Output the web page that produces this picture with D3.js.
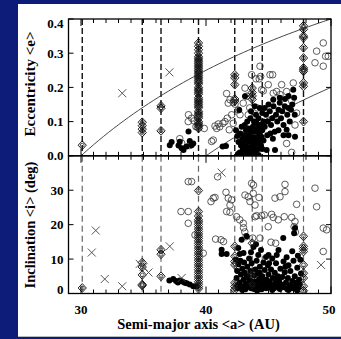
<!DOCTYPE html>
<html><head><meta charset="utf-8">
<script src="https://cdn.jsdelivr.net/npm/d3@7"></script>
<style>html,body{margin:0;padding:0;background:#0c1c78;}svg{display:block}</style>
</head><body>
<svg id="c" width="341" height="339"></svg>
<script>
// ---------------- data ----------------
const resonances = [30.1, 34.9, 36.4, 39.4, 42.3, 43.7, 44.5, 47.8];
const perihelia = [30, 40];
const xTicks = [30, 40, 50];
const eTicks = [0, 0.1, 0.2, 0.3, 0.4];
const eTickLabels = ["0.0", "0.1", "0.2", "0.3", "0.4"];
const iTicks = [0, 10, 20, 30];
const iTickLabels = ["0", "10", "20", "30"];
const xLabel = "Semi-major axis <a> (AU)";
const eLabel = "Eccentricity <e>";
const iLabel = "Inclination <i> (deg)";

// resonant objects (diamonds): [a, e]
const resonantE = [
  [30.1,0.031],
  [34.9,0.068],[34.9,0.078],[34.9,0.088],[34.9,0.098],
  [36.4,0.146],[36.4,0.139],[36.4,0.073],
  [39.4,0.33],[39.4,0.32],[39.4,0.31],[39.4,0.30],[39.4,0.29],[39.4,0.285],[39.4,0.28],[39.4,0.275],
  [39.4,0.27],[39.4,0.265],[39.4,0.26],[39.4,0.255],[39.4,0.25],[39.4,0.245],[39.4,0.24],[39.4,0.235],
  [39.4,0.23],[39.4,0.225],[39.4,0.22],[39.4,0.215],[39.4,0.21],[39.4,0.20],[39.4,0.195],[39.4,0.19],
  [39.4,0.185],[39.4,0.18],[39.4,0.17],[39.4,0.165],[39.4,0.16],[39.4,0.155],[39.4,0.15],[39.4,0.145],
  [39.4,0.14],[39.4,0.13],[39.4,0.125],[39.4,0.12],[39.4,0.115],[39.4,0.11],[39.4,0.10],[39.4,0.095],
  [39.4,0.09],[39.4,0.085],[39.4,0.08],
  [42.3,0.237],[42.3,0.228],[42.3,0.208],[42.3,0.166],[42.3,0.160],
  [43.7,0.198],[43.7,0.185],[43.7,0.175],[43.7,0.165],
  [47.8,0.38],[47.8,0.37],[47.8,0.35],[47.8,0.345],[47.8,0.316],[47.8,0.286],[47.8,0.257],
  [47.8,0.252],[47.8,0.247],[47.8,0.213],[47.8,0.203],[47.8,0.10]
];
// resonant objects (diamonds): [a, i]
const resonantI = [
  [30.1,1.6],
  [34.9,9.0],[34.9,7.7],[34.9,5.4],[34.9,2.6],[34.9,2.3],
  [36.4,12.7],[36.4,11.4],[36.4,5.0],
  [39.4,29.9],[39.4,23.8],[39.4,22.5],[39.4,21.4],[39.4,20.8],[39.4,20.1],[39.4,19.4],[39.4,18.7],
  [39.4,18.0],[39.4,17.3],[39.4,16.6],[39.4,16.0],[39.4,15.3],[39.4,14.6],[39.4,13.9],[39.4,13.2],
  [39.4,12.5],[39.4,11.8],[39.4,11.1],[39.4,10.4],[39.4,9.7],[39.4,9.0],[39.4,8.3],[39.4,7.6],
  [39.4,6.9],[39.4,6.2],[39.4,5.5],[39.4,4.8],[39.4,4.1],[39.4,3.4],[39.4,2.7],[39.4,2.0],[39.4,1.4],
  [42.3,13.7],[42.3,10.8],[42.3,9.3],[42.3,8.3],[42.3,3.1],[42.3,2.0],[42.3,1.1],
  [43.7,14.6],[43.7,5.9],[43.7,5.0],[43.7,2.6],
  [47.8,16.6],[47.8,13.7],[47.8,13.0],[47.8,12.2],[47.8,8.3],[47.8,5.9],[47.8,4.5],[47.8,2.1],[47.8,0.8]
];
// scattered objects (crosses)
const scatteredE = [[33.3,0.183],[37.07,0.244]];
const scatteredI = [
  [31.18,18.3],[30.86,11.9],[31.9,4.2],[33.3,2.1],[34.7,8.6],[35.0,7.7],[35.4,6.1],
  [37.1,13.7],[38.05,4.5],[41.25,35.1],[49.2,8.3]
];
// hot classical objects (open circles): [a, e]
const hotE = [
  [38.6,0.12],[38.85,0.11],[39.05,0.102],[38.58,0.10],[37.9,0.05],[38.05,0.037],[38.7,0.03],[39.2,0.085],
  [39.86,0.08],[40.45,0.042],[40.58,0.046],[40.72,0.087],[40.98,0.093],[40.85,0.08],[41.1,0.085],
  [41.35,0.095],[41.52,0.1],[41.7,0.11],[41.86,0.076],[42.05,0.12],[42.18,0.095],
  [41.65,0.182],[41.78,0.154],[41.92,0.164],[42.18,0.156],[42.32,0.151],
  [42.58,0.134],[42.72,0.12],[42.98,0.154],[43.12,0.198],[43.25,0.174],[43.38,0.12],[43.5,0.14],
  [43.65,0.237],[44.0,0.225],[44.26,0.225],[44.32,0.262],[44.37,0.232],[44.45,0.193],[44.58,0.19],
  [44.98,0.208],[45.12,0.237],[45.33,0.237],[45.38,0.183],[45.65,0.188],[45.92,0.179],
  [46.05,0.208],[46.45,0.188],[46.98,0.213],[46.85,0.161],[47.25,0.125],[47.12,0.09],
  [46.45,0.036],[46.85,0.01],[44.1,0.14],[43.9,0.11],
  [48.72,0.272],[48.85,0.306],[49.38,0.33],[49.38,0.262],[49.57,0.291],[49.78,0.291]
];
// cold classical objects (filled circles): [a, e]
const coldE = [
  [37.25,0.04],[37.1,0.031],[37.8,0.03],[38.05,0.022],[38.2,0.017],[38.6,0.071],[38.7,0.043],
  [38.85,0.031],[38.45,0.027],[38.98,0.036],[37.9,0.041],
  [41.33,0.027],[41.6,0.029],[42.5,0.058],[42.66,0.134],[42.4,0.075],
  [42.7,0.01],[42.8,0.03],[42.9,0.05],[42.75,0.065],[42.95,0.02],[43.0,0.04],[43.05,0.06],[43.1,0.008],
  [43.15,0.03],[43.2,0.05],[43.2,0.075],[43.3,0.015],[43.35,0.04],[43.4,0.06],[43.45,0.005],[43.5,0.025],
  [43.55,0.045],[43.6,0.07],[43.65,0.015],[43.7,0.035],[43.75,0.055],[43.8,0.005],[43.85,0.025],
  [43.9,0.045],[43.95,0.07],[44.0,0.015],[44.05,0.035],[44.1,0.055],[44.15,0.08],[44.2,0.02],
  [44.25,0.045],[44.3,0.065],[44.35,0.09],[44.4,0.03],[44.45,0.055],[44.5,0.075],[42.85,0.085],
  [43.1,0.09],[43.3,0.1],[43.55,0.11],[43.85,0.1],[43.6,0.13],[44.0,0.12],[44.2,0.11],[44.3,0.14],
  [43.9,0.145],[43.12,0.174],[44.6,0.1],[44.7,0.085],[44.8,0.12],[44.9,0.06],[44.95,0.1],[45.1,0.13],
  [45.2,0.09],[45.3,0.11],[45.4,0.145],[45.5,0.07],[45.6,0.12],[45.7,0.1],[45.8,0.135],[45.9,0.155],
  [46.0,0.11],[46.1,0.13],[46.2,0.09],[46.3,0.145],[46.32,0.166],[46.45,0.076],[46.5,0.12],[46.6,0.14],
  [46.7,0.1],[46.8,0.135],[46.9,0.15],[46.98,0.193],[47.1,0.12],[47.12,0.056],[44.85,0.017],
  [45.52,0.017],[45.38,0.164],[45.9,0.17],[46.6,0.175],[47.05,0.17],[44.5,0.02],[44.6,0.045],
  [44.2,0.002],[42.6,0.04],[42.55,0.005],[43.0,0.003],[43.4,0.08],[43.75,0.085],[44.05,0.095],
  [44.5,0.125],[44.7,0.14],[45.0,0.15],[45.15,0.065],[45.35,0.05],[45.8,0.075],[46.2,0.06],[46.6,0.06]
];
// hot classical objects (open circles): [a, i]
const hotI = [
  [38.58,32.5],[38.85,32.5],[38.0,23.8],[38.58,23.8],[38.58,20.4],[39.12,17.0],[39.78,11.7],
  [40.4,26.7],[40.58,27.7],[40.72,27.9],[40.93,33.9],[41.6,29.4],[41.78,27.7],[42.05,27.2],[41.92,25.7],
  [41.65,23.8],[41.92,23.6],[42.45,22.3],[42.7,21.4],[42.98,20.4],[43.0,19.1],[43.1,17.9],[43.2,16.5],
  [40.77,15.8],[41.2,15.6],[41.4,15.1],[43.12,28.6],[43.38,28.1],[43.52,26.7],[43.78,29.1],[43.8,31.5],
  [43.65,32.0],[44.24,27.9],[43.92,25.7],[44.05,22.6],[44.45,22.6],[44.66,22.8],[43.92,22.3],
  [45.25,23.0],[45.38,22.1],[45.78,21.4],[46.26,22.3],[46.85,22.1],[47.12,20.9],[47.05,19.4],[47.15,17.8],
  [44.98,19.4],[44.32,16.1],[43.74,16.1],[45.2,14.9],[45.57,14.6],
  [46.32,31.7],[45.92,28.1],[45.52,27.7],[46.32,29.6],[47.25,25.9],
  [48.72,30.6],[48.85,25.2],[49.38,19.0],[49.65,18.5],[49.38,12.2]
];
// cold classical objects (filled circles): [a, i]
const coldI = [
  [37.07,3.8],[37.38,4.2],[37.6,3.6],[37.9,3.8],[38.1,3.5],[38.3,3.1],[38.45,3.0],[38.7,2.6],
  [38.98,2.1],[39.25,2.1],[37.75,3.2],
  [41.25,12.7],[41.25,11.5],[41.65,11.5],[42.58,13.2],[42.85,15.6],[43.25,16.6],[46.18,16.1],
  [47.05,17.5],[47.12,19.0],[44.18,11.2],[45.0,11.2],[45.66,11.2],[46.45,10.5],
  [42.4,9.8],[42.6,8.5],[42.5,6.5],[42.45,4.5],[42.5,2.5],[42.55,1.5],[42.7,3.2],[42.8,5.5],[42.9,7.2],
  [42.75,9.5],[42.95,2.0],[43.0,4.0],[43.05,9.0],[43.1,6.0],[43.15,1.2],[43.2,3.0],[43.3,7.8],[43.35,5.0],
  [43.4,2.0],[43.45,10.2],[43.5,3.8],[43.55,6.5],[43.6,1.5],[43.65,8.8],[43.8,2.8],[43.85,5.2],[43.9,1.2],
  [43.95,7.0],[44.0,3.5],[44.05,9.5],[44.1,2.2],[44.15,5.8],[44.2,1.5],[44.25,4.2],[44.3,7.8],[44.35,2.8],
  [44.45,1.2],[44.5,5.0],[44.55,3.2],[44.6,9.0],[44.65,2.0],[44.7,6.8],[44.8,1.5],[44.85,4.0],[44.9,2.8],
  [44.95,8.2],[45.0,5.5],[45.05,1.8],[45.1,3.5],[45.2,7.0],[45.25,2.5],[45.3,10.2],[45.35,4.5],[45.45,1.5],
  [45.5,6.0],[45.55,3.0],[45.6,8.8],[45.7,2.0],[45.75,5.0],[45.85,3.8],[45.9,1.3],[45.95,7.2],[46.05,2.6],
  [46.1,4.8],[46.2,9.3],[46.25,1.8],[46.3,6.2],[46.4,3.2],[46.5,1.2],[46.55,4.5],[46.6,8.2],[46.7,2.4],
  [46.75,6.5],[46.85,1.5],[46.9,3.6],[47.0,9.5],[47.05,2.2],[47.1,5.0],[47.2,1.3],[47.25,3.2],[47.3,7.5],
  [47.4,1.8],[47.45,4.0],[47.5,2.6],[47.55,9.8],[47.35,11.0],[47.6,5.8],[42.7,11.5],[43.0,11.8],
  [43.6,12.0],[44.4,12.6],[45.8,12.6],[46.9,12.3],[44.8,10.6],[42.9,1.0],[43.7,3.4],[44.1,0.9],
  [44.7,3.8],[45.3,1.0],[45.9,2.5],[46.6,1.0],[47.3,0.9],[43.25,4.8],[44.3,6.0],[45.05,8.8],
  [45.65,4.2],[46.35,7.8],[43.8,13.5],[44.0,14.3]
];

// ---------------- drawing ----------------
const svg = d3.select("#c");
const W = 341, H = 339;
svg.append("rect").attr("x",0).attr("y",0).attr("width",W).attr("height",H).attr("fill","#0c1c78");
svg.append("rect").attr("x",18).attr("y",4).attr("width",W-18).attr("height",333).attr("fill","#fff");
svg.append("line").attr("x1",18).attr("x2",W).attr("y1",336.5).attr("y2",336.5).attr("stroke","#bbb").attr("stroke-width",1);

const x = d3.scaleLinear().domain([29,50]).range([68.5,331]);
const yE = d3.scaleLinear().domain([0,0.4]).range([155.8,19]);
const yI = d3.scaleLinear().domain([0,40]).range([293.5,155.8]);
const L = x.range()[0], R = x.range()[1];

const panels = [
  {y: yE, top: 19, bot: 155.8, id: "pE", dashColor: "#111", dashW: 1.4, dash: "6,3"},
  {y: yI, top: 155.8, bot: 293.5, id: "pI", dashColor: "#666", dashW: 1.2, dash: "6,4"}
];
const defs = svg.append("defs");
panels.forEach(p => {
  defs.append("clipPath").attr("id", p.id).append("rect")
    .attr("x", L).attr("y", p.top).attr("width", R-L).attr("height", p.bot-p.top);
});

// resonance dashed lines
panels.forEach(p => {
  svg.append("g").selectAll("line").data(resonances).join("line")
    .attr("x1", d => x(d)).attr("x2", d => x(d))
    .attr("y1", p.top).attr("y2", p.bot)
    .attr("stroke", p.dashColor).attr("stroke-width", p.dashW).attr("stroke-dasharray", p.dash);
});

// perihelion curves q = a(1-e)
const gE = svg.append("g").attr("clip-path","url(#pE)");
perihelia.forEach(q => {
  const aVals = d3.range(q, 50.01, 0.2);
  gE.append("path").datum(aVals)
    .attr("d", d3.line().x(a => x(a)).y(a => yE(1 - q / a)))
    .attr("fill","none").attr("stroke","#333").attr("stroke-width",0.9);
});
const gI = svg.append("g").attr("clip-path","url(#pI)");

function drawPoints(g, y, hot, cold, res, scat) {
  g.append("g").selectAll("circle").data(hot).join("circle")
    .attr("cx", d => x(d[0])).attr("cy", d => y(d[1])).attr("r", 3.3)
    .attr("fill","none").attr("stroke","#333").attr("stroke-width",0.8);
  g.append("g").selectAll("circle").data(cold).join("circle")
    .attr("cx", d => x(d[0])).attr("cy", d => y(d[1])).attr("r", 3.0)
    .attr("fill","#000");
  const dg = g.append("g").selectAll("g").data(res).join("g")
    .attr("transform", d => `translate(${x(d[0])},${y(d[1])})`);
  dg.append("path").attr("d","M0,-4.4L4.1,0L0,4.4L-4.1,0Z")
    .attr("fill","none").attr("stroke","#111").attr("stroke-width",0.95);
  dg.append("circle").attr("r",1.9).attr("fill","none").attr("stroke","#222").attr("stroke-width",0.8);
  g.append("g").selectAll("path").data(scat).join("path")
    .attr("d", d => { const cx = x(d[0]), cy = y(d[1]), s = 4;
      return `M${cx-s},${cy-s}L${cx+s},${cy+s}M${cx-s},${cy+s}L${cx+s},${cy-s}`; })
    .attr("stroke","#444").attr("stroke-width",0.9).attr("fill","none");
}
drawPoints(gE, yE, hotE, coldE, resonantE, scatteredE);
drawPoints(gI, yI, hotI, coldI, resonantI, scatteredI);

// frames and ticks
const minor = d3.range(29, 51, 1);
panels.forEach(p => {
  svg.append("rect").attr("x", L).attr("y", p.top).attr("width", R-L).attr("height", p.bot-p.top)
    .attr("fill","none").attr("stroke","#000").attr("stroke-width",1.3);
  const tg = svg.append("g").attr("stroke","#000").attr("stroke-width",1);
  minor.forEach(v => {
    const len = xTicks.includes(v) ? 7 : 4;
    tg.append("line").attr("x1",x(v)).attr("x2",x(v)).attr("y1",p.bot).attr("y2",p.bot-len);
    tg.append("line").attr("x1",x(v)).attr("x2",x(v)).attr("y1",p.top).attr("y2",p.top+len);
  });
});
const yt = svg.append("g").attr("stroke","#000").attr("stroke-width",1);
eTicks.forEach(v => {
  yt.append("line").attr("x1",L).attr("x2",L+5).attr("y1",yE(v)).attr("y2",yE(v));
  yt.append("line").attr("x1",R).attr("x2",R-5).attr("y1",yE(v)).attr("y2",yE(v));
});
iTicks.forEach(v => {
  yt.append("line").attr("x1",L).attr("x2",L+5).attr("y1",yI(v)).attr("y2",yI(v));
  yt.append("line").attr("x1",R).attr("x2",R-5).attr("y1",yI(v)).attr("y2",yI(v));
});

// labels
const font = "'Liberation Serif','Times New Roman',serif";
const lab = svg.append("g").attr("font-family", font).attr("font-weight","bold").attr("fill","#000");
eTicks.forEach((v,k) => {
  lab.append("text").attr("x", 63.5).attr("y", Math.max(yE(v), 23.5)).attr("dy","0.35em")
    .attr("text-anchor","end").attr("font-size",13).text(eTickLabels[k]);
});
iTicks.forEach((v,k) => {
  lab.append("text").attr("x", 63.5).attr("y", Math.min(yI(v), 289.5)).attr("dy","0.35em")
    .attr("text-anchor","end").attr("font-size",13).text(iTickLabels[k]);
});
xTicks.forEach(v => {
  lab.append("text").attr("x", Math.min(x(v), 329)).attr("y", 313.5)
    .attr("text-anchor","middle").attr("font-size",13).text(v);
});
lab.append("text").attr("x", 198.5).attr("y", 329).attr("text-anchor","middle")
  .attr("font-size",14.5).text(xLabel);
lab.append("text").attr("transform","translate(35,84) rotate(-90)").attr("text-anchor","middle")
  .attr("font-size",15).text(eLabel);
lab.append("text").attr("transform","translate(35,225) rotate(-90)").attr("text-anchor","middle")
  .attr("font-size",14.5).text(iLabel);
</script>
</body></html>
